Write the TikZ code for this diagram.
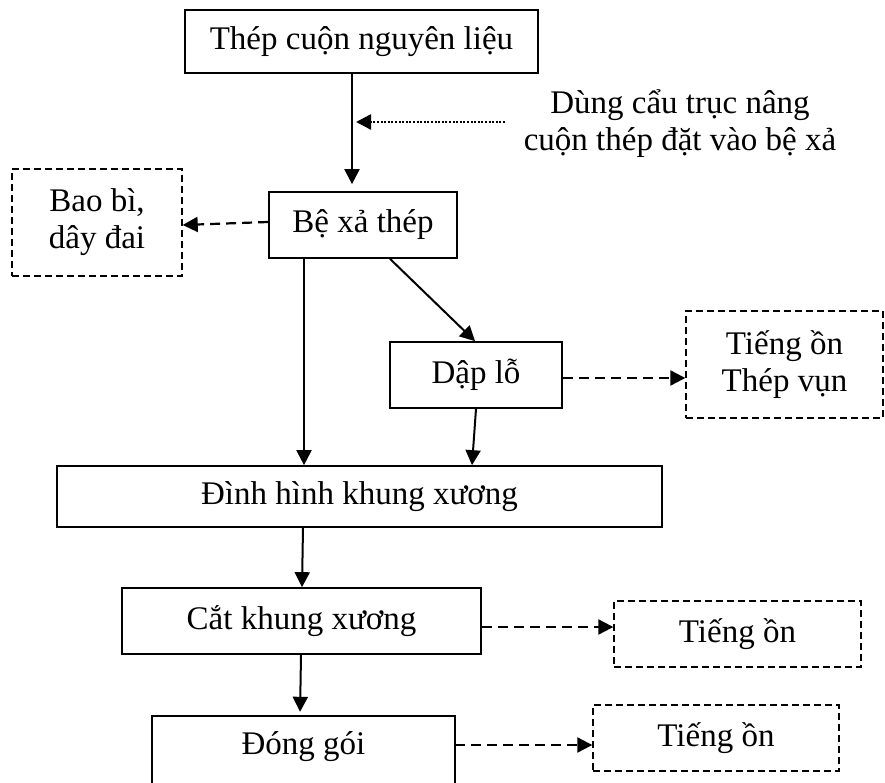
\documentclass[tikz,border=0pt]{standalone}
\usepackage{fontspec}
\setmainfont{Liberation Serif}
\usetikzlibrary{arrows.meta,calc}

\begin{document}
\begin{tikzpicture}[x=1pt,y=-1pt,
  every node/.style={font=\fontsize{33}{37}\selectfont, align=center, inner sep=0pt},
  procbox/.style 2 args={draw, line width=1.7pt, minimum width=#1, minimum height=#2},
  wastebox/.style 2 args={draw, line width=1.4pt, dash pattern=on 7pt off 4pt,
    minimum width=#1, minimum height=#2},
  tip/.style={-{Triangle[length=15pt,width=15pt]}},
  arr/.style={tip, line width=2pt},
  darr/.style={tip, line width=2.2pt, dash pattern=on 10pt off 6pt},
  dotarr/.style={tip, line width=2.4pt, dash pattern=on 2pt off 1.6pt}]

\useasboundingbox (0,0) rectangle (885,783);
\clip (0,0) rectangle (885,783);

% main process boxes
\node[procbox={353pt}{63pt}] (coil) at (361.5,41.5) {Thép cuộn nguyên liệu};
\node[procbox={188pt}{66pt}] (uncoil) at (363,225) {Bệ xả thép};
\node[procbox={172pt}{66pt}] (punch) at (476,375) {Dập lỗ};
\node[procbox={605pt}{61pt}] (form) at (359.5,496.5) {Đình hình khung xương};
\node[procbox={359pt}{66pt}] (cut) at (301.5,621) {Cắt khung xương};
\node[minimum width=303pt, minimum height=62pt] (pack) at (303.5,747) {Đóng gói};
\draw[line width=1.7pt] ([yshift=-30pt]pack.south west) rectangle (pack.north east);

% waste / emission boxes
\node[wastebox={170pt}{107pt}] (pkg) at (97,222.5) {Bao bì,\\dây đai};
\node[wastebox={197pt}{107pt}] (noise1) at (784.5,364.5) {Tiếng ồn\\Thép vụn};
\node[wastebox={247pt}{66pt}] (noise2) at (737.5,634) {Tiếng ồn};
\node[wastebox={246pt}{66pt}] (noise3) at (716,738) {Tiếng ồn};

% crane note
\node (crane) at (680,124) {Dùng cẩu trục nâng\\cuộn thép đặt vào bệ xả};
\coordinate (craneStart) at (505,122);
\coordinate (craneEnd) at (356,122);

% main flow
\draw[arr, shorten >=7pt] ([xshift=-9.5pt]coil.south) -- ([xshift=-11pt]uncoil.north);
\draw[dotarr] (craneStart) -- (craneEnd);
\draw[arr] ([xshift=-59pt]uncoil.south) -- ([xshift=-55.5pt]form.north);
\draw[arr] ([xshift=27pt]uncoil.south) -- ([xshift=-1pt]punch.north);
\draw[arr] (punch.south) -- ([xshift=112.5pt]form.north);
\draw[arr] ([xshift=-56.5pt]form.south) -- ([xshift=0.5pt]cut.north);
\draw[arr, shorten >=4pt] ([xshift=-0.5pt]cut.south) -- ([xshift=-3.5pt]pack.north);

% side outputs
\draw[darr] ([yshift=3pt]uncoil.west) -- (uncoil.west -| pkg.east);
\draw[darr] ([yshift=-3pt]punch.east) -- ([yshift=-3pt]punch.east -| noise1.west);
\draw[darr] ([yshift=-6pt]cut.east) -- ([yshift=-6pt]cut.east -| noise2.west);
\draw[darr] ([yshift=2pt]pack.east) -- ([yshift=2pt]pack.east -| noise3.west);
\end{tikzpicture}
\end{document}
